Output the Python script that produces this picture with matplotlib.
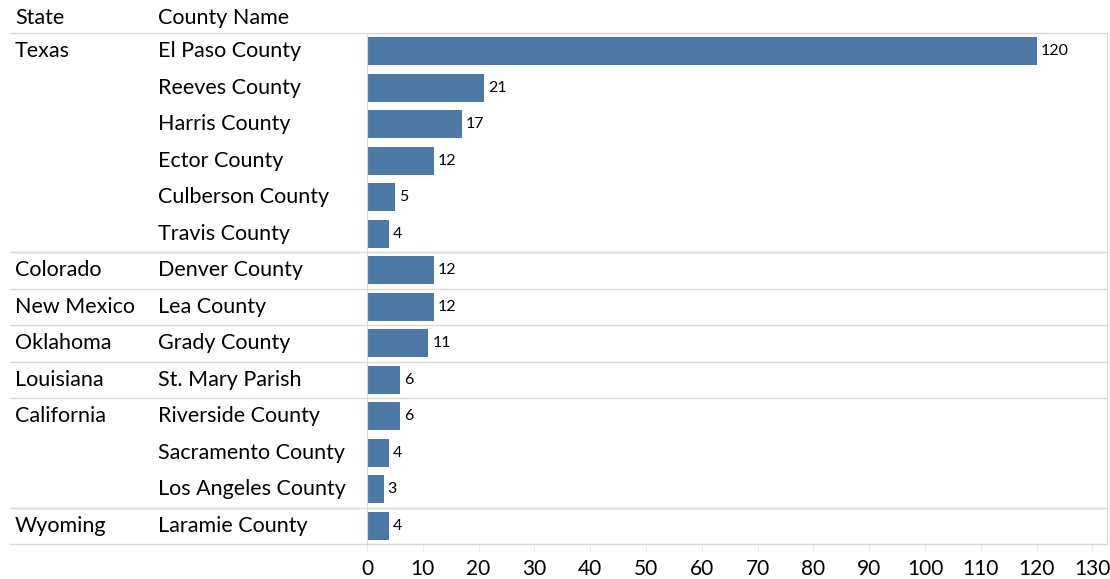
import matplotlib.pyplot as plt
from matplotlib.transforms import blended_transform_factory

states = ["Texas", "Texas", "Texas", "Texas", "Texas", "Texas",
          "Colorado", "New Mexico", "Oklahoma", "Louisiana",
          "California", "California", "California", "Wyoming"]
counties = ["El Paso County", "Reeves County", "Harris County", "Ector County",
            "Culberson County", "Travis County", "Denver County", "Lea County",
            "Grady County", "St. Mary Parish", "Riverside County",
            "Sacramento County", "Los Angeles County", "Laramie County"]
counts = [120, 21, 17, 12, 5, 4, 12, 12, 11, 6, 6, 4, 3, 4]
xticks = list(range(0, 140, 10))

bar_color = "#4e79a7"
line_color = "#d9d9d9"
plt.rcParams["font.family"] = ["Lato", "DejaVu Sans"]

fig = plt.figure(figsize=(11.1, 5.79), dpi=100)
W, H = 1110, 579
ax = fig.add_axes([367 / W, 1 - 544 / H, (1107 - 367) / W, (544 - 33) / H])

n = len(counts)
ypos = list(range(n))
ax.barh(ypos, counts, height=0.76, color=bar_color)
for y, v in zip(ypos, counts):
    ax.text(v + 0.7, y, str(v), va="center", ha="left", fontsize=11.5)

ax.set_ylim(n - 0.5, -0.5)
ax.set_xlim(0, 132.6)
ax.set_xticks(xticks)
ax.set_xticklabels([str(t) for t in xticks], fontsize=15)
ax.set_yticks([])
ax.tick_params(axis="x", length=6, color="#ececec", pad=5)
for s in ["top", "right", "left", "bottom"]:
    ax.spines[s].set_color(line_color)

# table columns on the left, rows aligned with the bars
tr = blended_transform_factory(fig.transFigure, ax.transData)
prev = None
for y, st, co in zip(ypos, states, counties):
    if st != prev:
        ax.text(15 / W, y, st, transform=tr, va="center", ha="left", fontsize=15.5)
    ax.text(158 / W, y, co, transform=tr, va="center", ha="left", fontsize=15.5)
    prev = st

# group separators span the whole width
bounds = [-0.5] + [i + 0.5 for i in range(n - 1) if states[i] != states[i + 1]] + [n - 0.5]
for b in bounds:
    ax.plot([10 / W, 1107 / W], [b, b], transform=tr, color=line_color,
            lw=1, clip_on=False)

fig.text(15 / W, 1 - 18 / H, "State", va="center", ha="left", fontsize=15.5)
fig.text(158 / W, 1 - 18 / H, "County Name", va="center", ha="left", fontsize=15.5)

fig.savefig("out.png", dpi=100)
